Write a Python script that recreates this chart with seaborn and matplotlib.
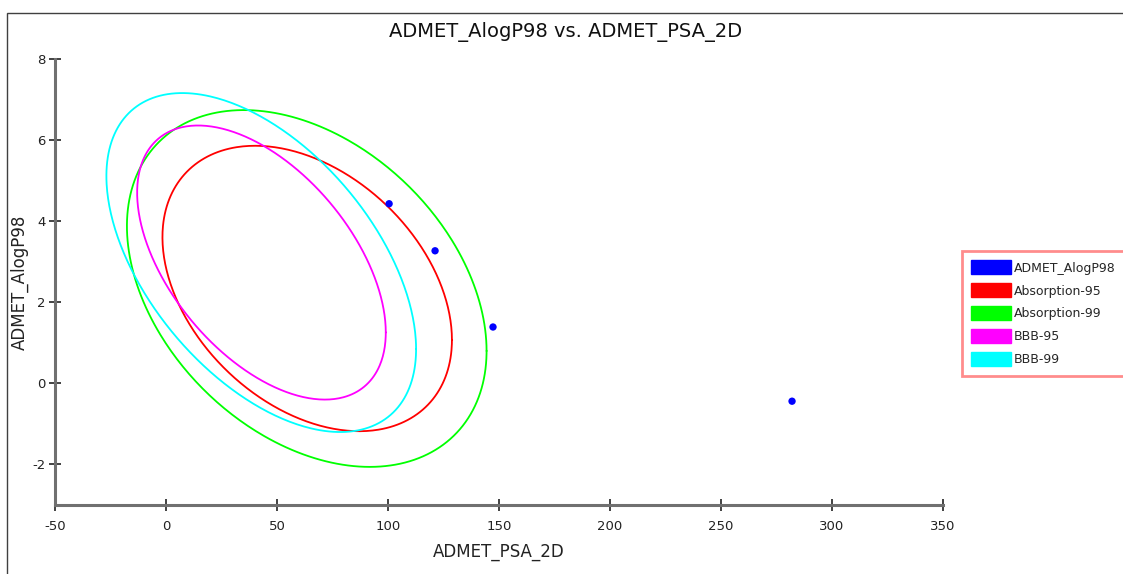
import numpy as np
import pandas as pd
import matplotlib
matplotlib.use('Agg')
import matplotlib.pyplot as plt
import seaborn as sns
from matplotlib.patches import Patch, Rectangle

# compounds
psa = [100.5, 121.2, 147.3, 282.0]
alogp = [4.43, 3.27, 1.39, -0.44]

# confidence ellipses: centre, half width, half height, correlation
ell_names = ['Absorption-95', 'Absorption-99', 'BBB-95', 'BBB-99']
ell_cx = [63.6, 63.4, 43.0, 42.9]
ell_cy = [2.34, 2.34, 2.98, 2.98]
ell_sx = [65.2, 81.0, 56.0, 69.75]
ell_sy = [3.52, 4.40, 3.38, 4.18]
ell_rho = [-0.36, -0.35, -0.51, -0.51]
ell_colors = ['#ff0000', '#00ff00', '#ff00ff', '#00ffff']

sns.set_style('white')
plt.rcParams['font.family'] = ['DejaVu Sans']
plt.rcParams['axes.unicode_minus'] = False

fig = plt.figure(figsize=(11.23, 5.74), dpi=100)
ax = fig.add_axes([55/1123, 1-505/574, (943-55)/1123, (505-59)/574])

t = np.linspace(0, 2*np.pi, 400)
for name, cx, cy, sx, sy, r, c in zip(ell_names, ell_cx, ell_cy, ell_sx, ell_sy, ell_rho, ell_colors):
    df = pd.DataFrame({
        'x': cx + sx*np.cos(t),
        'y': cy + sy*(r*np.cos(t) + np.sqrt(1-r**2)*np.sin(t)),
    })
    sns.lineplot(data=df, x='x', y='y', sort=False, estimator=None,
                 color=c, lw=1.3, ax=ax)

sns.scatterplot(x=psa, y=alogp, color='#0000ff', s=28, edgecolor='none', ax=ax, zorder=5)

ax.set_xlim(-50, 350)
ax.set_ylim(-3, 8)
ax.set_xticks(range(-50, 351, 50))
ax.set_yticks(range(-2, 9, 2))
for s in ['top', 'right']:
    ax.spines[s].set_visible(False)
for s in ['left', 'bottom']:
    ax.spines[s].set_color('#707070')
    ax.spines[s].set_linewidth(2.2)
ax.tick_params(bottom=True, left=True, direction='inout', length=8, width=1.3,
               color='#333333', labelsize=9.5, labelcolor='#222222')
ax.tick_params(axis='x', pad=7)
ax.tick_params(axis='y', pad=3)
ax.set_xlabel('ADMET_PSA_2D', fontsize=12, color='#222222', labelpad=7)
ax.set_ylabel('ADMET_AlogP98', fontsize=12, color='#222222', labelpad=2)

fig.text(566/1123, 1-32/574, 'ADMET_AlogP98 vs. ADMET_PSA_2D',
         ha='center', va='center', fontsize=14, color='#111111')

# outer frame
fig.patches.append(Rectangle((7/1123, -0.05), 1.2, 1-13/574+0.05,
                             transform=fig.transFigure, fill=False,
                             edgecolor='#404040', lw=1.0))

handles = [Patch(facecolor='#0000ff', edgecolor='#0000ff', label='ADMET_AlogP98')]
handles += [Patch(facecolor=c, edgecolor=c, label=n) for n, c in zip(ell_names, ell_colors)]
leg = fig.legend(handles=handles, loc='upper left',
                 bbox_to_anchor=(962/1123, 1-251/574), frameon=True,
                 fontsize=9, handlelength=3.2, handleheight=1.35,
                 handletextpad=0.2, labelspacing=0.7, borderpad=0.75,
                 borderaxespad=0, fancybox=False)
leg.get_frame().set_edgecolor('#ff7070')
leg.get_frame().set_linewidth(2)

fig.savefig('out.png', dpi=100)
